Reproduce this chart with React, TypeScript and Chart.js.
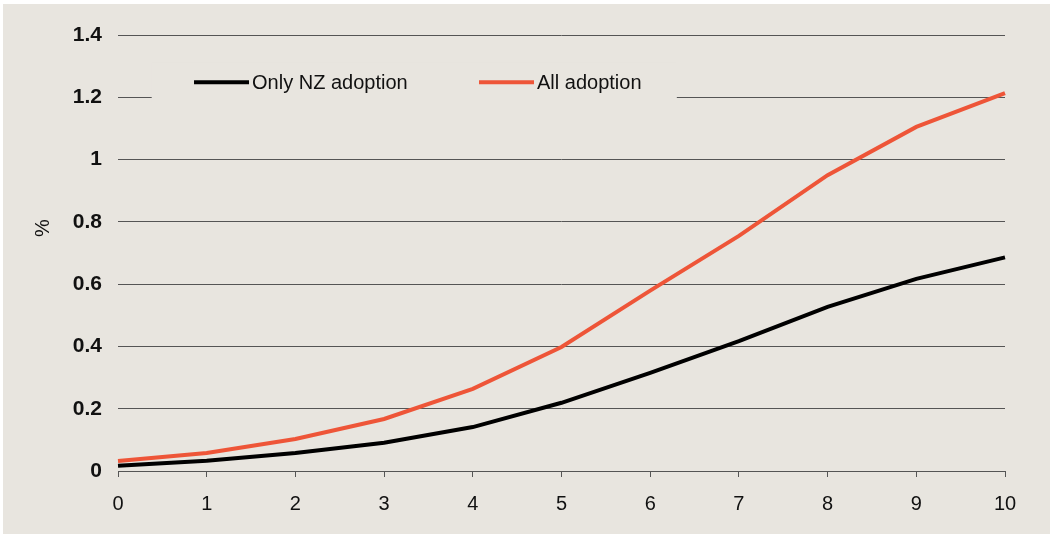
import React, { useEffect, useRef } from "react";
import { Chart, registerables } from "chart.js";

Chart.register(...registerables);

const years = ["0", "1", "2", "3", "4", "5", "6", "7", "8", "9", "10"];
const onlyNZ = [0.017, 0.033, 0.058, 0.091, 0.141, 0.219, 0.315, 0.417, 0.527, 0.617, 0.686];
const allAdoption = [0.032, 0.058, 0.103, 0.167, 0.264, 0.398, 0.579, 0.755, 0.95, 1.105, 1.213];
const seriesNames = ["Only NZ adoption", "All adoption"];
const seriesColors = ["#000000", "#EE5538"];
const yTicks = [0, 0.2, 0.4, 0.6, 0.8, 1, 1.2, 1.4];
const yTitle = "%";

const BG = "#E8E5DF";
const FONT = "'Liberation Sans', Arial, sans-serif";

const bgPlugin = {
  id: "bgFill",
  beforeDraw(chart: any) {
    const { ctx, width, height } = chart;
    ctx.save();
    ctx.fillStyle = "#ffffff";
    ctx.fillRect(0, 0, width, height);
    ctx.fillStyle = BG;
    ctx.fillRect(3, 4, width - 3, height - 4);
    ctx.restore();
  },
};

const legendPlugin = {
  id: "insideLegend",
  beforeDatasetsDraw(chart: any) {
    const { ctx } = chart;
    const xs = chart.scales.x;
    const ys = chart.scales.y;
    const boxLeft = xs.getPixelForValue(0.38);
    const boxRight = xs.getPixelForValue(6.3);
    const yc = ys.getPixelForValue(1.248);
    ctx.save();
    ctx.fillStyle = BG;
    ctx.fillRect(boxLeft, yc - 20, boxRight - boxLeft, 40);
    const itemX = [xs.getPixelForValue(0.857), xs.getPixelForValue(4.07)];
    chart.data.datasets.forEach((ds: any, i: number) => {
      const x0 = itemX[i];
      ctx.strokeStyle = ds.borderColor;
      ctx.lineWidth = 4;
      ctx.beginPath();
      ctx.moveTo(x0, yc);
      ctx.lineTo(x0 + 55, yc);
      ctx.stroke();
      ctx.fillStyle = "#111111";
      ctx.font = `20px ${FONT}`;
      ctx.textAlign = "left";
      ctx.textBaseline = "middle";
      ctx.fillText(ds.label, x0 + 58, yc + 1);
    });
    // y-axis title
    ctx.translate(43, ys.getPixelForValue(0.78));
    ctx.rotate(-Math.PI / 2);
    ctx.font = `20px ${FONT}`;
    ctx.textAlign = "center";
    ctx.textBaseline = "middle";
    ctx.fillStyle = "#111111";
    ctx.fillText(yTitle, 0, 0);
    ctx.restore();
  },
};

export default function App() {
  const ref = useRef<HTMLCanvasElement | null>(null);
  useEffect(() => {
    if (!ref.current) return;
    const chart = new Chart(ref.current, {
      type: "line",
      data: {
        labels: years,
        datasets: [
          {
            label: seriesNames[0],
            data: onlyNZ,
            borderColor: seriesColors[0],
            backgroundColor: seriesColors[0],
            borderWidth: 4,
            pointRadius: 0,
            tension: 0,
          },
          {
            label: seriesNames[1],
            data: allAdoption,
            borderColor: seriesColors[1],
            backgroundColor: seriesColors[1],
            borderWidth: 4,
            pointRadius: 0,
            tension: 0,
          },
        ],
      },
      options: {
        animation: false,
        responsive: false,
        maintainAspectRatio: false,
        layout: { padding: { left: 0, top: 35, right: 45, bottom: 0 } },
        plugins: {
          legend: { display: false },
          tooltip: { enabled: false },
        },
        scales: {
          x: {
            type: "category",
            offset: false,
            grid: {
              drawOnChartArea: false,
              drawTicks: true,
              tickLength: 6,
              color: "#555555",
            },
            border: { display: true, color: "#555555", width: 1 },
            ticks: {
              color: "#111111",
              font: { family: FONT, size: 20 },
              padding: 15,
              maxRotation: 0,
            },
            afterFit: (s: any) => {
              s.height = 63;
            },
          },
          y: {
            min: 0,
            max: 1.4,
            afterBuildTicks: (s: any) => {
              s.ticks = yTicks.map((v) => ({ value: v }));
            },
            grid: { drawTicks: false, color: "#555555", lineWidth: 1 },
            border: { display: false },
            ticks: {
              color: "#111111",
              font: { family: FONT, size: 21, weight: "bold" },
              padding: 16,
              callback: (v: any) => String(Math.round(Number(v) * 10) / 10),
            },
            afterFit: (s: any) => {
              s.width = 118;
            },
          },
        },
      },
      plugins: [bgPlugin, legendPlugin],
    });
    return () => chart.destroy();
  }, []);
  return (
    <div style={{ position: "fixed", left: 0, top: 0, width: 1050, height: 534 }}>
      <canvas ref={ref} width={1050} height={534} style={{ display: "block", width: 1050, height: 534 }} />
    </div>
  );
}
